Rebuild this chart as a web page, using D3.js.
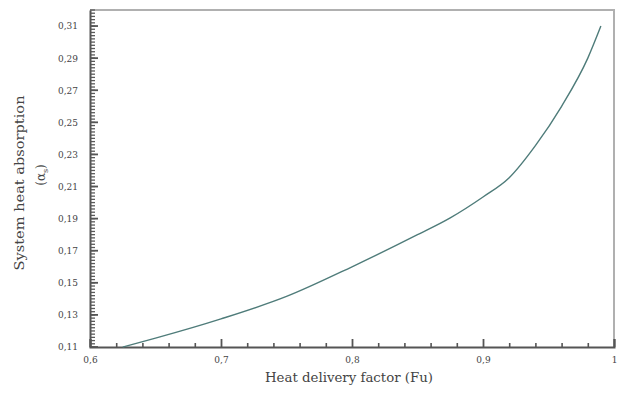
<!DOCTYPE html>
<html>
<head>
<meta charset="utf-8">
<script src="https://cdn.jsdelivr.net/npm/d3@7"></script>
<style>
  body { margin: 0; background: #fff; }
  svg { display: block; font-family: "DejaVu Serif", "Liberation Serif", serif; }
</style>
</head>
<body>
<div class="chart-holder"></div>
<script>
// values
const fu = [0.625, 0.65, 0.70, 0.75, 0.80, 0.85, 0.875, 0.90, 0.92, 0.94, 0.96, 0.98, 0.99];
const alphaS = [0.110, 0.1155, 0.1275, 0.1415, 0.160, 0.180, 0.1905, 0.2035, 0.2155, 0.2355, 0.260, 0.290, 0.310];
const xTicks = [0.6, 0.7, 0.8, 0.9, 1];
const xTickLabels = ["0,6", "0,7", "0,8", "0,9", "1"];
const yTicks = [0.11, 0.13, 0.15, 0.17, 0.19, 0.21, 0.23, 0.25, 0.27, 0.29, 0.31];
const yTickLabels = ["0,11", "0,13", "0,15", "0,17", "0,19", "0,21", "0,23", "0,25", "0,27", "0,29", "0,31"];

const width = 619;
const height = 394;
const margin = { top: 10, right: 5, bottom: 47, left: 90 };

const svg = d3.select(".chart-holder")
  .append("svg")
  .attr("width", width)
  .attr("height", height);

const x = d3.scaleLinear().domain([0.6, 1]).range([margin.left, width - margin.right]);
const y = d3.scaleLinear().domain([0.11, 0.32]).range([height - margin.bottom, margin.top]);

const axisColor = "#555";

// frame (top and right)
svg.append("path")
  .attr("d", `M${x(0.6)},${y(0.32)}H${x(1)}V${y(0.11)}`)
  .attr("fill", "none")
  .attr("stroke", "#b0b0b0")
  .attr("stroke-width", 2);

// minor ticks x
const xMinor = d3.range(1, 20).map(i => 0.6 + i * 0.02).filter(v => Math.abs(v * 10 - Math.round(v * 10)) > 1e-6);
svg.append("g")
  .attr("transform", `translate(0,${y(0.11)})`)
  .call(d3.axisBottom(x).tickValues(xMinor).tickSize(-4).tickFormat(""))
  .call(g => g.select(".domain").remove())
  .selectAll("line").attr("stroke", axisColor).attr("stroke-width", 1.6);

// major ticks x
const gx = svg.append("g")
  .attr("transform", `translate(0,${y(0.11)})`)
  .call(d3.axisBottom(x).tickValues(xTicks).tickSize(-8).tickPadding(10)
    .tickFormat((d, i) => xTickLabels[i]));
gx.select(".domain").attr("stroke", axisColor).attr("stroke-width", 2);
gx.selectAll("line").attr("stroke", axisColor).attr("stroke-width", 1.8);
gx.selectAll("text").attr("font-size", 9).attr("fill", "#444")
  .attr("font-family", "DejaVu Serif, serif");

// minor ticks y (every 0.002)
const yMinor = d3.range(0, 106).map(i => 0.11 + i * 0.002);
svg.append("g")
  .selectAll("line")
  .data(yMinor)
  .join("line")
  .attr("x1", x(0.6))
  .attr("x2", x(0.6) + 5)
  .attr("y1", d => y(d))
  .attr("y2", d => y(d))
  .attr("stroke", "#5a5a5a")
  .attr("stroke-width", 1.3);

// major ticks y
const gy = svg.append("g")
  .attr("transform", `translate(${x(0.6)},0)`)
  .call(d3.axisLeft(y).tickValues(yTicks).tickSize(0).tickPadding(12)
    .tickFormat((d, i) => yTickLabels[i]));
gy.select(".domain").attr("stroke", axisColor).attr("stroke-width", 2);
gy.selectAll("text").attr("font-size", 9).attr("fill", "#444")
  .attr("font-family", "DejaVu Serif, serif");

svg.append("g")
  .selectAll("line")
  .data(yTicks)
  .join("line")
  .attr("x1", x(0.6))
  .attr("x2", x(0.6) + 8)
  .attr("y1", d => y(d))
  .attr("y2", d => y(d))
  .attr("stroke", axisColor)
  .attr("stroke-width", 1.8);

// curve
const data = fu.map((v, i) => ({ x: v, y: alphaS[i] }));
svg.append("path")
  .datum(data)
  .attr("fill", "none")
  .attr("stroke", "#4f7c7a")
  .attr("stroke-width", 1.4)
  .attr("d", d3.line().x(d => x(d.x)).y(d => y(d.y)).curve(d3.curveMonotoneX));

// axis titles
svg.append("text")
  .attr("x", 349)
  .attr("y", 382)
  .attr("text-anchor", "middle")
  .attr("font-size", 12.5)
  .attr("fill", "#444")
  .attr("textLength", 168)
  .attr("lengthAdjust", "spacingAndGlyphs")
  .text("Heat delivery factor (Fu)");

svg.append("text")
  .attr("transform", "translate(24,183) rotate(-90)")
  .attr("text-anchor", "middle")
  .attr("font-size", 12.5)
  .attr("fill", "#444")
  .attr("textLength", 175)
  .attr("lengthAdjust", "spacingAndGlyphs")
  .text("System heat absorption");

const sub = svg.append("text")
  .attr("transform", "translate(45,175) rotate(-90)")
  .attr("text-anchor", "middle")
  .attr("font-size", 12)
  .attr("fill", "#444");
sub.append("tspan").text("(α");
sub.append("tspan").attr("font-size", 8).attr("dy", 3).text("s");
sub.append("tspan").attr("dy", -3).text(")");
</script>
</body>
</html>
